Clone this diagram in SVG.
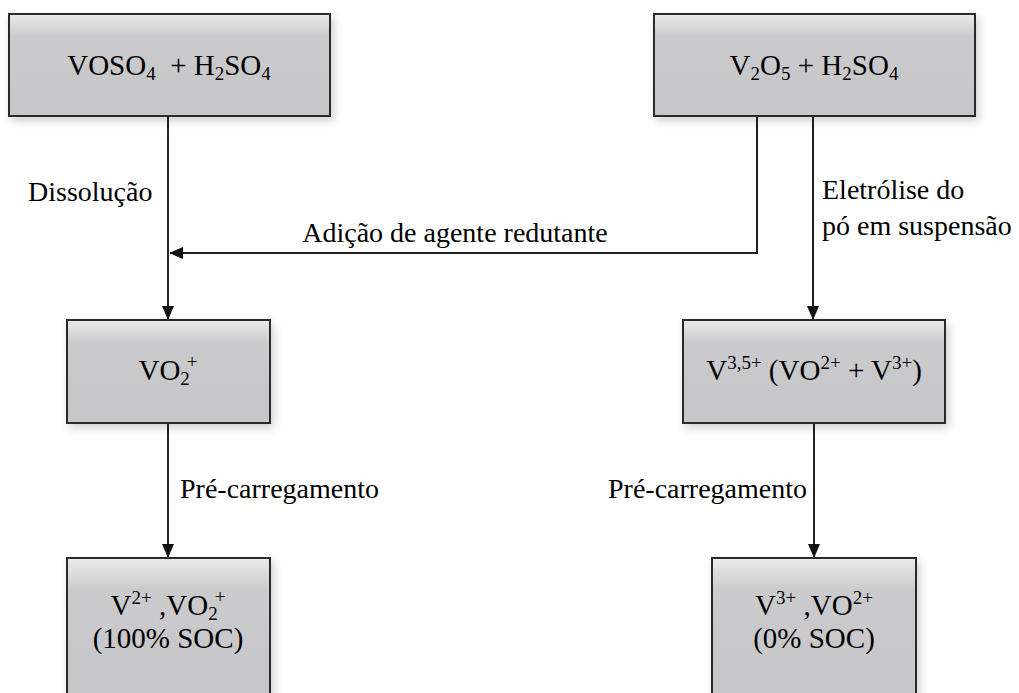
<svg xmlns="http://www.w3.org/2000/svg" width="1019" height="693" viewBox="0 0 1019 693">
<style>
.box{fill:url(#g);stroke:#2a2a2a;stroke-width:2;filter:url(#sh)}
text{font-family:'Liberation Serif','DejaVu Serif',serif;font-size:28px;fill:#000}
.b{font-size:29px}
.c{text-anchor:middle}
.s{font-size:19px}
.ln{stroke:#222;stroke-width:2;fill:none}
</style>
<defs>
<linearGradient id="g" x1="0" y1="0" x2="0" y2="1">
<stop offset="0" stop-color="#ebebeb"/>
<stop offset="0.22" stop-color="#cbcbcd"/>
<stop offset="1" stop-color="#c6c6c8"/>
</linearGradient>
<filter id="sh" x="-10%" y="-10%" width="125%" height="130%">
<feDropShadow dx="3" dy="4" stdDeviation="4" flood-color="#000" flood-opacity="0.18"/>
</filter>
<marker id="ar" markerWidth="14" markerHeight="12" refX="13" refY="6" orient="auto" markerUnits="userSpaceOnUse">
<path d="M0,0 L14,6 L0,12 Z" fill="#111"/>
</marker>
</defs>

<g id="connectors">
<path class="ln" d="M168,116 V319" marker-end="url(#ar)"/>
<path class="ln" d="M757,116 V253 H170" marker-end="url(#ar)"/>
<path class="ln" d="M813,116 V319" marker-end="url(#ar)"/>
<path class="ln" d="M168,423 V557" marker-end="url(#ar)"/>
<path class="ln" d="M814,423 V557" marker-end="url(#ar)"/>
<text x="28" y="201">Dissolução</text>
<text x="455" y="242" class="c">Adição de agente redutante</text>
<text x="822" y="199">Eletrólise do</text>
<text x="822" y="235">pó em suspensão</text>
<text x="180" y="498">Pré-carregamento</text>
<text x="807" y="498" text-anchor="end">Pré-carregamento</text>
</g>

<g id="n1">
<rect class="box" x="9" y="14" width="321" height="102"/>
<text x="169" y="75" class="c b">VOSO<tspan class="s" dy="5">4</tspan><tspan dy="-5" xml:space="preserve">  + H</tspan><tspan class="s" dy="5">2</tspan><tspan dy="-5">SO</tspan><tspan class="s" dy="5">4</tspan></text>
</g>

<g id="n2">
<rect class="box" x="654" y="14" width="321" height="102"/>
<text x="814" y="75" class="c b">V<tspan class="s" dy="5">2</tspan><tspan dy="-5">O</tspan><tspan class="s" dy="5">5</tspan><tspan dy="-5"> + H</tspan><tspan class="s" dy="5">2</tspan><tspan dy="-5">SO</tspan><tspan class="s" dy="5">4</tspan></text>
</g>

<g id="n3">
<rect class="box" x="67" y="320" width="203" height="103"/>
<text x="168" y="380" class="c b">VO<tspan class="s" dy="5">2</tspan><tspan class="s" dy="-17" dx="-3">+</tspan></text>
</g>

<g id="n4">
<rect class="box" x="683" y="320" width="262" height="103"/>
<text x="814" y="380" class="c b">V<tspan class="s" dy="-11">3,5+</tspan><tspan dy="11"> (VO</tspan><tspan class="s" dy="-11">2+</tspan><tspan dy="11"> + V</tspan><tspan class="s" dy="-11">3+</tspan><tspan dy="11">)</tspan></text>
</g>

<g id="n5">
<rect class="box" x="67" y="558" width="203" height="145"/>
<text x="168" y="615" class="c b">V<tspan class="s" dy="-11">2+</tspan><tspan dy="11"> ,VO</tspan><tspan class="s" dy="5">2</tspan><tspan class="s" dy="-17" dx="-3">+</tspan></text>
<text x="168" y="648" class="c b">(100% SOC)</text>
</g>

<g id="n6">
<rect class="box" x="712" y="558" width="204" height="145"/>
<text x="814" y="615" class="c b">V<tspan class="s" dy="-11">3+</tspan><tspan dy="11"> ,VO</tspan><tspan class="s" dy="-11">2+</tspan></text>
<text x="814" y="648" class="c b">(0% SOC)</text>
</g>
</svg>
